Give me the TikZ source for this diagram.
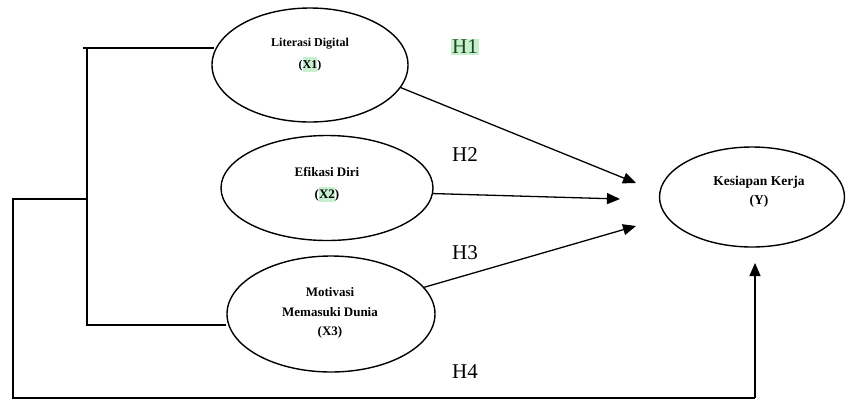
\documentclass[tikz,border=0pt]{standalone}
\usepackage{fontspec}
\setmainfont{Liberation Serif}
\usetikzlibrary{shapes.geometric,arrows.meta}
\definecolor{hl}{HTML}{C6EFCE}
\definecolor{hltext}{HTML}{1E4620}
\begin{document}
\begin{tikzpicture}[x=1pt,y=-1pt,
  var/.style={ellipse,draw,line width=1.4pt,inner sep=0pt},
  lab/.style={font=\bfseries\fontsize{#1}{14}\selectfont,inner sep=0pt},
  conn/.style={line width=1.3pt},
  arr/.style={line width=1.3pt,-{Triangle[length=13pt,width=11pt]}},
  hyp/.style={font=\fontsize{21}{22}\selectfont},
  hyphl/.style={hyp,fill=hl,text=hltext,inner sep=1pt}
]
\useasboundingbox (0,0) rectangle (846,400);
\node[var,minimum width=196pt,minimum height=114pt] (x1) at (310,65) {};
\node[var,minimum width=212pt,minimum height=105pt] (x2) at (327,188) {};
\node[var,minimum width=208pt,minimum height=116pt] (x3) at (331,314) {};
\node[var,minimum width=185pt,minimum height=100pt] (y) at (752,197) {};
% texts
\node[lab=12] (t1) at (310,44) {Literasi Digital};
\node[lab=12] (t1b) at (310,64) {(\colorbox{hl}{\kern-3pt\rule{0pt}{9pt}X1\kern-3pt})};
\node[lab=13] (t2) at (327,172) {Efikasi Diri};
\node[lab=13] (t2b) at (327,194) {(\colorbox{hl}{\kern-3pt\rule{0pt}{9pt}X2\kern-3pt})};
\node[lab=13] (t3) at (330,292) {Motivasi};
\node[lab=13] (t3b) at (330,312) {Memasuki Dunia};
\node[lab=13] (t3c) at (330,332) {(X3)};
\node[lab=13.5] (ty) at (759,182) {Kesiapan Kerja};
\node[lab=13.5] (tyb) at (759,201) {(Y)};
% hypothesis labels
\node[hyphl] (h1) at (465,47) {H1};
\node[hyp] (h2) at (465,155) {H2};
\node[hyp] (h3) at (465,253) {H3};
\node[hyp] (h4) at (465,372) {H4};
% bracket coordinates
\coordinate (a1) at (83,48);
\coordinate (v1) at (87,48);
\coordinate (v2) at (87,325);
\coordinate (vm) at (87,199);
\coordinate (o1) at (13,199);
\coordinate (o2) at (13,398);
\coordinate (o3) at (755,398);
\coordinate (yb) at (755,263);
\coordinate (e1) at (636,183);
\coordinate (e2) at (620,199);
\coordinate (e3) at (636,226);
\draw[conn] (a1) -- (x1.west |- a1) -- ++(3,0);
\draw[conn] (v1) -- (v2) -- (x3.west |- v2);
\draw[conn] (vm) -- (o1) -- (o2) -- (o3);
\draw[arr] (o3) -- (yb);
\draw[arr] (x1.-14) -- (e1);
\draw[arr] (x2.-3) -- (e2);
\draw[arr] (x3.16) -- (e3);
\end{tikzpicture}
\end{document}
